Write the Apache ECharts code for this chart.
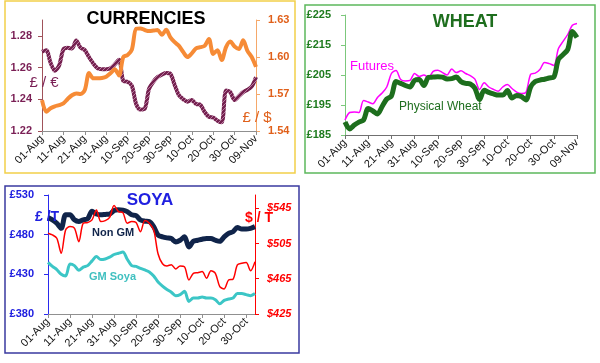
<!DOCTYPE html>
<html><head><meta charset="utf-8">
<script src="https://cdn.jsdelivr.net/npm/echarts@6/dist/echarts.min.js"></script>
<style>html,body{margin:0;padding:0;background:#fff}#c{width:600px;height:363px}</style>
</head><body><div id="c"></div>
<script>
// Categories: every second day, 01-Aug .. 09-Nov
const dates = ['01-Aug','03-Aug','05-Aug','07-Aug','09-Aug','11-Aug','13-Aug','15-Aug','17-Aug','19-Aug',
  '21-Aug','23-Aug','25-Aug','27-Aug','29-Aug','31-Aug','02-Sep','04-Sep','06-Sep','08-Sep',
  '10-Sep','12-Sep','14-Sep','16-Sep','18-Sep','20-Sep','22-Sep','24-Sep','26-Sep','28-Sep',
  '30-Sep','02-Oct','04-Oct','06-Oct','08-Oct','10-Oct','12-Oct','14-Oct','16-Oct','18-Oct',
  '20-Oct','22-Oct','24-Oct','26-Oct','28-Oct','30-Oct','01-Nov','03-Nov','05-Nov','07-Nov','09-Nov'];
const soyaDates = dates.slice(0, 48);

// Tick labels
const eurTicks = [1.22, 1.24, 1.26, 1.28];
const usdTicks = [1.54, 1.57, 1.60, 1.63];
const wheatTicks = [185, 195, 205, 215, 225];
const soyaGbpTicks = [380, 430, 480, 530];
const soyaUsdTicks = [425, 465, 505, 545];

// CURRENCIES
const gbpEur = [1.270,1.271,1.263,1.258,1.2613,1.2715,1.2725,1.272,1.277,1.2725,
  1.271,1.2665,1.2625,1.2595,1.259,1.259,1.2595,1.262,1.265,1.2515,
  1.251,1.2485,1.237,1.2335,1.234,1.2465,1.251,1.254,1.2555,1.2565,
  1.256,1.249,1.2425,1.240,1.2385,1.2395,1.237,1.2365,1.232,1.229,
  1.2285,1.2265,1.2255,1.2455,1.2445,1.2395,1.242,1.2445,1.246,1.248,1.254];
const gbpUsd = [1.565,1.5556,1.5584,1.560,1.561,1.5624,1.566,1.569,1.5705,1.570,
  1.5732,1.587,1.5827,1.5827,1.583,1.584,1.5868,1.590,1.585,1.600,
  1.6016,1.606,1.623,1.6232,1.6219,1.621,1.6214,1.6219,1.618,1.622,
  1.616,1.612,1.609,1.604,1.600,1.603,1.607,1.608,1.609,1.6145,
  1.6025,1.6055,1.5975,1.608,1.6125,1.6085,1.6065,1.6135,1.605,1.600,1.592];

// WHEAT
const futures = [190.0,192.5,192.7,192.5,196.5,196.0,195.4,197.5,199.0,201.0,
  205.5,206.5,203.5,203.0,203.2,205.5,204.5,205.0,204.2,206.2,
  206.6,205.8,205.0,207.0,205.8,206.4,205.5,204.8,203.6,200.2,
  202.4,201.0,200.2,199.6,201.0,201.8,200.5,199.3,198.8,199.2,
  205.2,205.6,206.8,209.2,208.8,208.2,213.8,216.2,218.5,221.6,222.2];
const physicalWheat = [189.3,187.0,188.3,189.3,190.0,193.8,193.0,192.0,194.5,197.0,
  198.0,202.8,202.2,201.5,201.0,203.2,203.5,201.5,204.2,204.3,
  204.4,204.3,203.7,203.8,204.3,202.8,202.2,202.0,200.6,196.8,
  199.9,199.2,198.7,198.3,198.3,199.8,197.3,198.2,197.8,196.7,
  201.0,202.8,203.3,203.6,204.0,204.3,210.2,211.8,213.5,219.5,217.5];

// SOYA
const nonGM = [501.7,498.7,494.4,488.0,505.1,505.1,498.7,496.6,498.7,500.0,
  509.5,506.0,505.0,505.5,506.0,510.5,511.5,511.0,509.0,505.0,
  504.0,498.5,497.0,496.5,490.1,479.4,477.3,476.0,475.1,470.9,
  473.0,477.3,464.4,471.7,473.0,474.3,475.1,475.1,473.0,471.7,
  477.3,481.6,483.7,488.9,487.1,487.1,488.0,490.1];
const soyaUsd = [516.6,514.7,510.9,494.0,520.4,524.2,522.3,507.1,528.0,528.7,
  531.8,543.1,529.9,531.0,534.6,548.0,541.2,540.0,528.0,529.9,
  528.7,518.4,531.0,528.0,520.4,493.0,482.0,479.5,481.0,476.0,
  479.5,478.5,463.6,471.2,471.9,473.1,465.5,474.2,471.2,456.0,
  453.5,463.6,464.4,480.7,482.5,483.3,474.2,484.4];
const gmSoya = [445.1,440.0,436.0,430.0,428.0,443.0,441.0,435.0,439.0,441.0,
  447.0,452.5,448.6,449.4,451.6,455.0,456.5,458.0,449.0,441.0,
  440.0,437.5,435.5,433.0,428.0,420.3,415.1,410.9,407.4,403.1,
  404.4,408.7,395.9,400.1,400.1,401.4,400.1,400.1,398.0,392.9,
  397.1,398.9,400.1,405.7,405.7,404.4,403.1,405.7];

function hatch() {
  const c = document.createElement('canvas'); c.width = 4; c.height = 4;
  const g = c.getContext('2d');
  g.fillStyle = '#74214f'; g.fillRect(0, 0, 4, 4);
  g.fillStyle = '#b97aa0';
  g.fillRect(0, 0, 1, 1); g.fillRect(2, 2, 1, 1); g.fillRect(1, 3, 1, 1); g.fillRect(3, 1, 1, 1);
  return c;
}

const FONT = 'Liberation Sans, Arial, sans-serif';
function xAxis(grid, data, color) {
  return {
    type: 'category', gridIndex: grid, data: data, boundaryGap: false,
    axisLine: {lineStyle: {color: color, width: 1}},
    axisTick: {interval: 4, length: 4, lineStyle: {color: color}},
    axisLabel: {interval: 4, rotate: 45, fontSize: 11, color: '#111', margin: 6, fontFamily: FONT},
    splitLine: {show: false}
  };
}
function yAxis(grid, pos, min, max, ticks, lineColor, labelColor, fmt) {
  return {
    type: 'value', gridIndex: grid, position: pos, min: min, max: max,
    axisLine: {show: true, lineStyle: {color: lineColor, width: 1}},
    axisTick: {show: true, customValues: ticks, length: 4, lineStyle: {color: lineColor}},
    axisLabel: {customValues: ticks, formatter: fmt, color: labelColor, fontSize: 11,
      fontWeight: 'bold', fontFamily: FONT, margin: 10},
    splitLine: {show: false}
  };
}
function txt(x, y, text, size, color, weight, align) {
  return {type: 'text', z: 100, style: {x: x, y: y, text: text, fill: color,
    font: (weight || 'normal') + ' ' + size + 'px ' + FONT,
    textAlign: align || 'center', textVerticalAlign: 'middle'}};
}
function box(x, y, w, h, color) {
  return {type: 'rect', z: 0, shape: {x: x, y: y, width: w, height: h},
    style: {fill: 'none', stroke: color, lineWidth: 1.5}};
}

const chart = echarts.init(document.getElementById('c'), null, {renderer: 'canvas'});
const y0 = yAxis(0, 'left', 1.22, 1.29, eurTicks, '#a0525a', '#7a1f55', v => v.toFixed(2));
const y1 = yAxis(0, 'right', 1.54, 1.63, usdTicks, '#f5a86a', '#e0601a', v => v.toFixed(2));
y1.axisLabel.margin = 12;
const y2 = yAxis(1, 'left', 185, 225, wheatTicks, '#7cc87c', '#1e7b1e', v => '£' + v);
y2.axisLabel.margin = 14;
const y3 = yAxis(2, 'left', 380, 530, soyaGbpTicks, '#2a2aee', '#2020e0', v => '£' + v);
y3.axisLabel.margin = 14;
const y4 = yAxis(2, 'right', 425, 560, soyaUsdTicks, '#ff0000', '#ff0000', v => '$' + v);
y4.axisLabel.margin = 12; y4.axisLabel.fontStyle = 'italic';

chart.setOption({
  animation: false,
  grid: [
    {left: 42, top: 20, width: 214, height: 111},
    {left: 345, top: 15, width: 232, height: 120},
    {left: 48, top: 195, width: 207, height: 119}
  ],
  xAxis: [xAxis(0, dates, '#909090'), xAxis(1, dates, '#707070'), xAxis(2, soyaDates, '#909090')],
  yAxis: [y0, y1, y2, y3, y4],
  series: [
    {type: 'line', xAxisIndex: 0, yAxisIndex: 0, data: gbpEur, showSymbol: false, smooth: 0.3,
      lineStyle: {width: 4, color: {image: hatch(), repeat: 'repeat'}}},
    {type: 'line', xAxisIndex: 0, yAxisIndex: 1, data: gbpUsd, showSymbol: false, smooth: 0.3,
      lineStyle: {width: 4, color: '#f68b36'}},
    {type: 'line', xAxisIndex: 1, yAxisIndex: 2, data: futures, showSymbol: false, smooth: 0.3,
      lineStyle: {width: 1.5, color: '#ff00ff'}},
    {type: 'line', xAxisIndex: 1, yAxisIndex: 2, data: physicalWheat, showSymbol: false, smooth: 0.3,
      lineStyle: {width: 5, color: '#1d6e1d'}},
    {type: 'line', xAxisIndex: 2, yAxisIndex: 3, data: nonGM, showSymbol: false, smooth: 0.3,
      lineStyle: {width: 5, color: '#10244a'}},
    {type: 'line', xAxisIndex: 2, yAxisIndex: 4, data: soyaUsd, showSymbol: false, smooth: 0.3,
      lineStyle: {width: 1.5, color: '#ff0000'}},
    {type: 'line', xAxisIndex: 2, yAxisIndex: 3, data: gmSoya, showSymbol: false, smooth: 0.3,
      lineStyle: {width: 3, color: '#3cc6c6'}}
  ],
  graphic: [
    box(5, 1, 290, 172, '#f2d04a'),
    box(305, 5, 290, 168, '#5cb85c'),
    box(5, 186, 294, 167, '#3a3aa0'),
    txt(146, 19, 'CURRENCIES', 18, '#000', 'bold'),
    txt(44, 83, '£ / €', 15, '#7a1f55', 'normal'),
    txt(257, 118, '£ / $', 15, '#e0601a', 'normal'),
    txt(465, 22, 'WHEAT', 18, '#1e6e1e', 'bold'),
    txt(350, 66, 'Futures', 13, '#ff00ff', 'normal', 'left'),
    txt(399, 107, 'Physical Wheat', 12, '#1e6e1e', 'normal', 'left'),
    txt(150, 200, 'SOYA', 17, '#2020e0', 'bold'),
    txt(35, 217, '£ /T', 14, '#2020e0', 'bold', 'left'),
    txt(245, 218, '$ / T', 14, '#ff0000', 'bold', 'left'),
    txt(92, 233, 'Non GM', 11, '#10244a', 'bold', 'left'),
    txt(89, 277, 'GM Soya', 11, '#40c0c0', 'bold', 'left')
  ]
});
</script></body></html>
